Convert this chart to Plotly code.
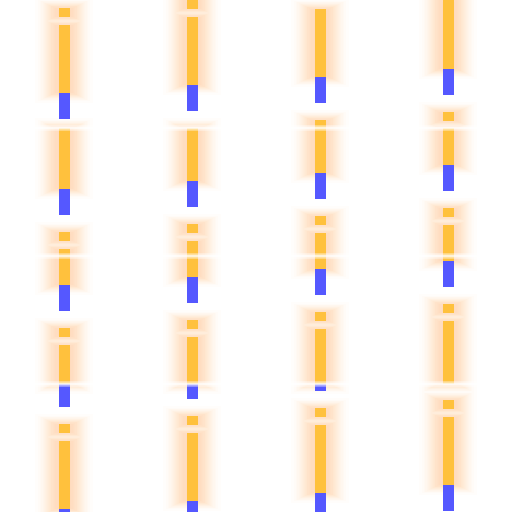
import math
import plotly.graph_objects as go

# ---- data (y measured downward, 0..512) ----
orange_col = ["A"]*9 + ["B"]*9 + ["C"]*8 + ["D"]*9
orange_start = [8, 25, 128, 232, 249, 328, 345, 424, 441,
                0, 17, 128, 224, 241, 320, 337, 416, 433,
                9, 120, 216, 233, 312, 329, 408, 425,
                0, 112, 128, 208, 225, 304, 321, 400, 417]
orange_end = [17, 93, 189, 241, 285, 337, 384, 433, 509,
              9, 85, 181, 233, 277, 329, 384, 425, 501,
              77, 173, 225, 269, 321, 384, 417, 493,
              69, 121, 165, 217, 261, 313, 384, 409, 485]

blue_col = ["A"]*5 + ["B"]*5 + ["C"]*5 + ["D"]*4
blue_start = [93, 189, 285, 384, 509,
              85, 181, 277, 384, 501,
              77, 173, 269, 384, 493,
              69, 165, 261, 485]
blue_end = [119, 215, 311, 407, 512,
            111, 207, 303, 399, 512,
            103, 199, 295, 391, 512,
            95, 191, 287, 511]

categories = ["A", "B", "C", "D"]
tile_edges = [128, 256, 384]

ORANGE = "#ffc13d"
BLUE = "#5558ff"
BAR_W = 11 / 128.0


def merged(col, pad):
    segs = sorted((s - pad, e + pad) for c, s, e in
                  zip(orange_col, orange_start, orange_end) if c == col)
    out = []
    for s, e in segs:
        if out and s <= out[-1][1]:
            out[-1][1] = max(out[-1][1], e)
        else:
            out.append([s, e])
    return out


fig = go.Figure()

# soft glow behind orange bars: stacked translucent layers with a
# gaussian-like spacing of their offsets (union per layer so overlaps don't stack)
n_layers = 18
sigma = 14.0
offsets = [sigma * math.sqrt(math.log(n_layers / k)) for k in range(1, n_layers)]
offsets.append(1.0)
for d in offsets:  # widest first
    pad_v = 0.5 * d - 2.0
    w = (11 + 2 * d) / 128.0
    xs, bs, ls = [], [], []
    for c in categories:
        for s, e in merged(c, pad_v):
            if e - s > 0:
                xs.append(c); bs.append(s); ls.append(e - s)
    fig.add_trace(go.Bar(
        x=xs, base=bs, y=ls, width=w,
        marker=dict(color="rgba(236,150,85,0.022)", line=dict(width=0)),
        hoverinfo="skip", showlegend=False,
    ))

fig.add_trace(go.Bar(
    x=orange_col, base=orange_start,
    y=[e - s for s, e in zip(orange_start, orange_end)],
    width=BAR_W, marker=dict(color=ORANGE, line=dict(width=0)),
    hoverinfo="skip", showlegend=False,
))
fig.add_trace(go.Bar(
    x=blue_col, base=blue_start,
    y=[e - s for s, e in zip(blue_start, blue_end)],
    width=BAR_W, marker=dict(color=BLUE, line=dict(width=0)),
    hoverinfo="skip", showlegend=False,
))

# tile seams (white fading bands)
shapes = []
for t in tile_edges:
    for (a, b, op) in [(t - 3, t - 1.5, 0.35), (t - 1.5, t + 1.5, 0.8),
                       (t + 1.5, t + 3, 0.35)]:
        shapes.append(dict(type="rect", xref="paper", yref="y",
                           x0=0, x1=1, y0=a, y1=b,
                           fillcolor="white", opacity=op,
                           line=dict(width=0), layer="above"))

fig.update_layout(
    width=512, height=512,
    margin=dict(l=0, r=0, t=0, b=0),
    paper_bgcolor="white", plot_bgcolor="white",
    barmode="overlay", bargap=0,
    showlegend=False,
    shapes=shapes,
    xaxis=dict(type="category", categoryorder="array",
               categoryarray=categories,
               range=[-0.5, 3.5], visible=False, fixedrange=True),
    yaxis=dict(range=[512, 0], visible=False, fixedrange=True,
               showgrid=False, zeroline=False),
)

fig.write_html("out.html", config={"displayModeBar": False})
